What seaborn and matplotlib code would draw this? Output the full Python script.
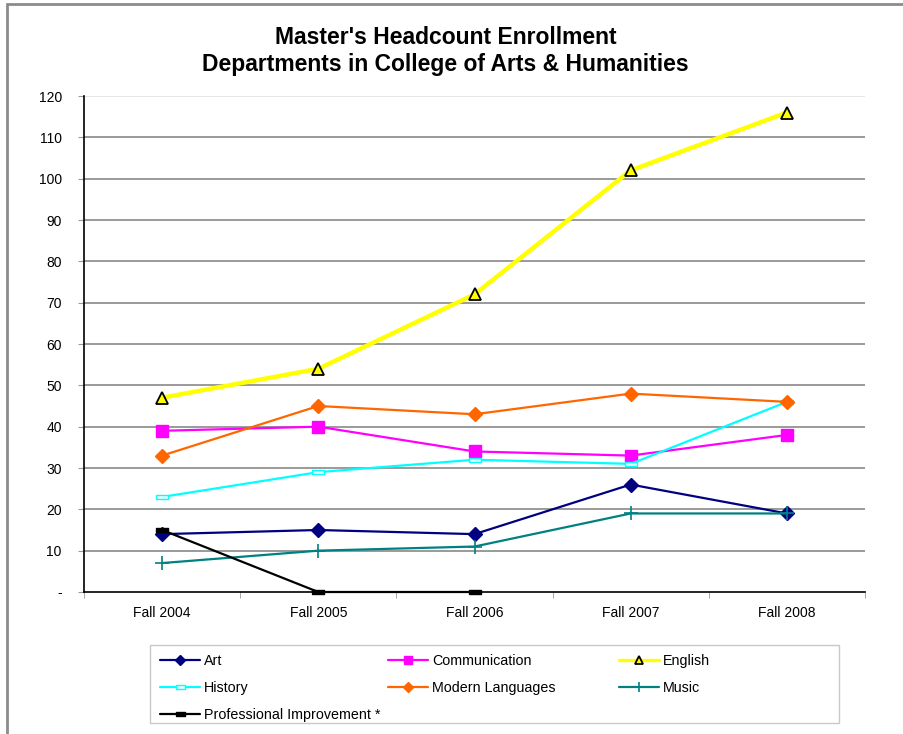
import numpy as np
import pandas as pd
import matplotlib.pyplot as plt
import seaborn as sns
from matplotlib.patches import Rectangle
from matplotlib.lines import Line2D
from matplotlib.ticker import FixedLocator

terms = ["Fall 2004", "Fall 2005", "Fall 2006", "Fall 2007", "Fall 2008"]
art = [14, 15, 14, 26, 19]
communication = [39, 40, 34, 33, 38]
english = [47, 54, 72, 102, 116]
history = [23, 29, 32, 31, 46]
modern_languages = [33, 45, 43, 48, 46]
music = [7, 10, 11, 19, 19]
prof_improvement = [15, 0, 0, np.nan, np.nan]

sns.set_style("white")
plt.rcParams["font.family"] = ["Liberation Sans", "DejaVu Sans"]
plt.rcParams["text.color"] = "black"
plt.rcParams["xtick.labelcolor"] = "black"
plt.rcParams["ytick.labelcolor"] = "black"

flat = [(-1, -0.35), (1, -0.35), (1, 0.35), (-1, 0.35), (-1, -0.35)]

series = [
    ("Art", art, dict(color="#000080", marker="D", markersize=7, lw=1.6, mec="#000080")),
    ("Communication", communication, dict(color="#FF00FF", marker="s", markersize=8, lw=1.6, mec="#FF00FF")),
    ("English", english, dict(color="#FFFF00", marker="^", markersize=8, lw=3.2, mec="black", mew=1.3)),
    ("History", history, dict(color="#00FFFF", marker=flat, markersize=9, lw=1.6, mec="#00FFFF", mfc="#E8FFFF")),
    ("Modern Languages", modern_languages, dict(color="#FF6600", marker="D", markersize=7, lw=1.6, mec="#FF6600")),
    ("Music", music, dict(color="#008080", marker="+", markersize=10, lw=1.6, mew=1.2)),
    ("Professional Improvement *", prof_improvement, dict(color="black", marker=flat, markersize=9, lw=1.6, mec="black")),
]

fig = plt.figure(figsize=(9.04, 7.34), dpi=100)
ax = fig.add_axes([84 / 904, 1 - 592 / 734, (865 - 84) / 904, (592 - 96) / 734])

# gridlines
for v in range(10, 121, 10):
    ax.axhline(v, color="#9a9a9a" if v < 120 else "#e6e6e6", lw=1.4, zorder=0)

x = np.arange(len(terms))
handles = {}
for name, vals, st in series:
    df = pd.DataFrame({"x": x, "y": vals})
    sns.lineplot(data=df, x="x", y="y", ax=ax, color=st["color"], linewidth=st["lw"],
                 marker=st["marker"], markersize=st["markersize"],
                 markeredgecolor=st.get("mec", st["color"]), markeredgewidth=st.get("mew", 1),
                 markerfacecolor=st.get("mfc", st["color"]), label=name, zorder=3, clip_on=False)
    # smaller copy for the legend
    handles[name] = Line2D([], [], color=st["color"], lw=min(st["lw"], 2.4),
                           marker=st["marker"], markersize=st["markersize"] * 0.72,
                           markeredgecolor=st.get("mec", st["color"]),
                           markeredgewidth=st.get("mew", 1),
                           markerfacecolor=st.get("mfc", st["color"]))
ax.get_legend().remove()

ax.set_xlim(-0.5, len(terms) - 0.5)
ax.set_ylim(0, 120)
ax.set_xticks(x)
ax.set_xticklabels(terms, fontsize=10)
ax.xaxis.set_minor_locator(FixedLocator(np.arange(-0.5, len(terms), 1)))
ax.tick_params(axis="x", which="major", length=0, pad=10)
ax.tick_params(axis="x", which="minor", length=4, color="#9a9a9a", direction="out", bottom=True)
ax.set_yticks(range(0, 121, 10))
ax.set_yticklabels(["-"] + [str(v) for v in range(10, 121, 10)], fontsize=10)
ax.tick_params(axis="y", length=4, color="#9a9a9a", direction="out", left=True, pad=12)
ax.set_xlabel("")
ax.set_ylabel("")
for s in ["top", "right"]:
    ax.spines[s].set_visible(False)
for s in ["left", "bottom"]:
    ax.spines[s].set_color("black")
    ax.spines[s].set_linewidth(1.2)

fig.text(0.493, 1 - 37 / 734, "Master's Headcount Enrollment", ha="center", va="center",
         fontsize=16.5, fontweight="bold")
fig.text(0.493, 1 - 64 / 734, "Departments in College of Arts & Humanities", ha="center", va="center",
         fontsize=16.5, fontweight="bold")

# legend: three fixed-width columns inside one box
columns = [["Art", "History", "Professional Improvement *"],
           ["Communication", "Modern Languages"],
           ["English", "Music"]]
col_x = [160, 388, 619]
for names, cx in zip(columns, col_x):
    fig.legend([handles[n] for n in names], names, loc="upper left",
               bbox_to_anchor=(cx / 904, 1 - 654 / 734), frameon=False,
               fontsize=10.3, handlelength=2.8, handletextpad=0.28, labelspacing=0.92,
               borderaxespad=0, borderpad=0)
fig.patches.append(Rectangle((150 / 904, 1 - 723 / 734), 689 / 904, 78 / 734,
                             transform=fig.transFigure, fill=False,
                             edgecolor="#c8c8c8", linewidth=1))

fig.patches.append(Rectangle((7 / 904, -0.1), 1.2, 1.1 - 4 / 734, transform=fig.transFigure,
                             fill=False, edgecolor="#8c8c8c", linewidth=2))

fig.savefig("out.png", dpi=100)
